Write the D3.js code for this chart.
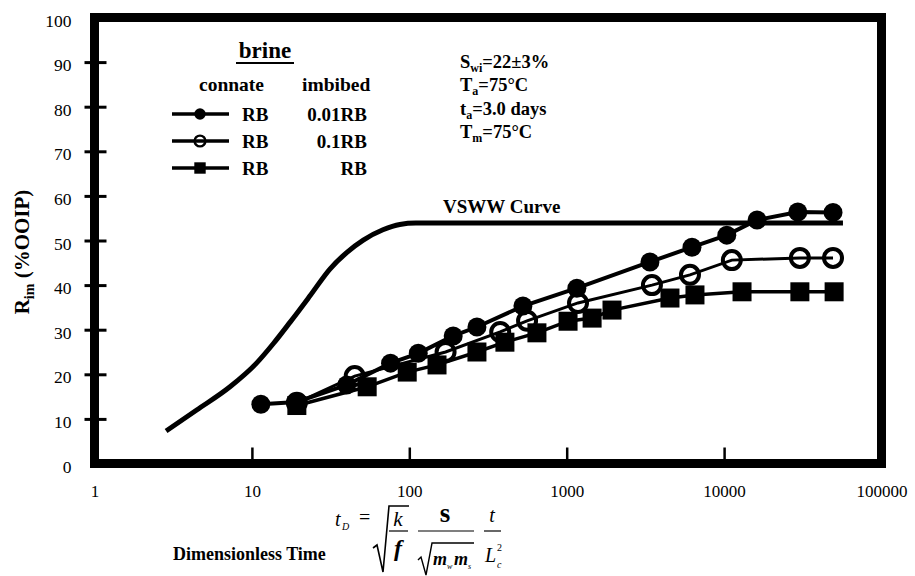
<!DOCTYPE html>
<html>
<head>
<meta charset="utf-8">
<script src="https://cdn.jsdelivr.net/npm/d3@7/dist/d3.min.js"></script>
<style>
  html, body { margin: 0; padding: 0; background: #fff; }
  svg { display: block; }
  text { font-family: "Liberation Serif", "Times New Roman", serif; fill: #000; }
</style>
</head>
<body>
<svg id="chart" width="915" height="576"></svg>
<script>
// Dimensionless time (x) and oil recovery R_im in %OOIP (y)
const vswwTime = [2.85, 4.46, 7.26, 10.7, 13.7, 17.5, 23.4, 31.3, 40, 51, 68, 87, 110, 56900];
const vswwRec  = [7.3, 12.0, 17.2, 22.5, 26.9, 31.7, 37.6, 43.6, 47.3, 50.1, 52.4, 53.6, 53.9, 53.9];

// connate RB / imbibed 0.01RB
const s1Time = [11.4, 19.3, 40, 76, 114, 190, 269, 527, 1160, 3380, 6250, 10400, 16200, 29400, 49200];
const s1Rec  = [13.3, 13.8, 17.6, 22.5, 24.7, 28.6, 30.6, 35.3, 39.3, 45.2, 48.5, 51.2, 54.6, 56.4, 56.3];

// connate RB / imbibed 0.1RB
const s2Time = [19.3, 45, 170, 378, 560, 1180, 3480, 6070, 11200, 30300, 49200];
const s2Rec  = [13.6, 19.6, 25.0, 29.5, 32.0, 36.0, 40.0, 42.3, 45.6, 46.1, 46.1];

// connate RB / imbibed RB
const s3Time = [19.3, 54, 97, 150, 269, 405, 647, 1020, 1450, 1940, 4530, 6530, 13000, 30300, 50000];
const s3Rec  = [13.0, 17.2, 20.5, 22.1, 25.0, 27.2, 29.3, 31.9, 32.6, 34.4, 37.1, 37.8, 38.5, 38.5, 38.5];

const xTickValues = [1, 10, 100, 1000, 10000, 100000];
const yTickValues = [0, 10, 20, 30, 40, 50, 60, 70, 80, 90, 100];

const legendRows = [
  { connate: "RB", imbibed: "0.01RB", marker: "filled" },
  { connate: "RB", imbibed: "0.1RB", marker: "open" },
  { connate: "RB", imbibed: "RB", marker: "square" }
];

const svg = d3.select("#chart");

const x = d3.scaleLog().domain([1, 100000]).range([94.5, 881.5]);
const y = d3.scaleLinear().domain([0, 100]).range([463.5, 17.5]);

const zip = (a, b) => a.map((v, i) => [v, b[i]]);

// axes: ticks and labels
const yAxis = d3.axisLeft(y).tickValues(yTickValues).tickSize(0).tickPadding(0)
  .tickFormat(d3.format("d"));
const gy = svg.append("g").attr("transform", "translate(94.5,0)").call(yAxis);
gy.select(".domain").remove();
gy.selectAll(".tick text")
  .attr("x", -23).attr("dy", "0.32em").attr("dx", 0)
  .attr("y", 3)
  .style("font-size", "17.5px").style("font-family", "'Liberation Serif', serif");
gy.selectAll(".tick").filter(d => d > 0 && d < 100)
  .append("line").attr("x1", -10).attr("x2", 12).attr("stroke", "#000").attr("stroke-width", 3);

const xAxis = d3.axisBottom(x).tickValues(xTickValues).tickSize(0)
  .tickFormat(d3.format("d"));
const gx = svg.append("g").attr("transform", "translate(0,463.5)").call(xAxis);
gx.select(".domain").remove();
gx.selectAll(".tick text").attr("y", 21).attr("dy", "0.71em")
  .style("font-size", "17px").style("font-family", "'Liberation Serif', serif");
gx.selectAll(".tick").filter(d => d > 1 && d < 100000)
  .append("line").attr("y1", -16).attr("y2", 0).attr("stroke", "#000").attr("stroke-width", 2.5);

// frame
svg.append("rect")
  .attr("x", x(1)).attr("y", y(100))
  .attr("width", x(100000) - x(1)).attr("height", y(0) - y(100))
  .attr("fill", "none").attr("stroke", "#000").attr("stroke-width", 9);

// y axis title
const yt = svg.append("text")
  .attr("transform", "translate(29,252) rotate(-90)")
  .attr("text-anchor", "middle")
  .style("font-size", "21px").style("font-weight", "bold");
yt.append("tspan").text("R");
yt.append("tspan").attr("dy", 5).style("font-size", "14px").text("im");
yt.append("tspan").attr("dy", -5).text(" (%OOIP)");

// VSWW curve
const line = d3.line().x(d => x(d[0])).y(d => y(d[1]));
svg.append("path")
  .datum(zip(vswwTime, vswwRec))
  .attr("d", line.curve(d3.curveMonotoneX))
  .attr("fill", "none").attr("stroke", "#000").attr("stroke-width", 5);

svg.append("text").attr("x", 443).attr("y", 213)
  .style("font-size", "19px").style("font-weight", "bold").text("VSWW Curve");

const straight = d3.line().x(d => x(d[0])).y(d => y(d[1]));

function drawMarker(g, kind, cx, cy, scale) {
  if (kind === "filled") {
    g.append("circle").attr("cx", cx).attr("cy", cy).attr("r", 9.5 * scale).attr("fill", "#000");
  } else if (kind === "open") {
    g.append("circle").attr("cx", cx).attr("cy", cy).attr("r", 9 * scale)
      .attr("fill", "none").attr("stroke", "#000").attr("stroke-width", 4 * scale);
  } else {
    const s = 19 * scale;
    g.append("rect").attr("x", cx - s / 2).attr("y", cy - s / 2)
      .attr("width", s).attr("height", s).attr("fill", "#000");
  }
}

const series = [
  { t: s3Time, r: s3Rec, marker: "square", width: 3.5 },
  { t: s2Time, r: s2Rec, marker: "open", width: 3 },
  { t: s1Time, r: s1Rec, marker: "filled", width: 4 }
];

series.forEach(s => {
  const pts = zip(s.t, s.r);
  const g = svg.append("g");
  g.append("path").datum(pts).attr("d", straight)
    .attr("fill", "none").attr("stroke", "#000").attr("stroke-width", s.width);
  pts.forEach(p => drawMarker(g, s.marker, x(p[0]), y(p[1]), 1));
});

// legend
const lg = svg.append("g");
lg.append("text").attr("x", 265).attr("y", 58).attr("text-anchor", "middle")
  .style("font-size", "23px").style("font-weight", "bold").text("brine");
lg.append("line").attr("x1", 236).attr("x2", 294).attr("y1", 63).attr("y2", 63)
  .attr("stroke", "#000").attr("stroke-width", 2);
lg.append("text").attr("x", 199).attr("y", 91)
  .style("font-size", "19.5px").style("font-weight", "bold").text("connate");
lg.append("text").attr("x", 302).attr("y", 91)
  .style("font-size", "19.5px").style("font-weight", "bold").text("imbibed");

legendRows.forEach((row, i) => {
  const ry = 114 + i * 27;
  lg.append("line").attr("x1", 172).attr("x2", 229).attr("y1", ry).attr("y2", ry)
    .attr("stroke", "#000").attr("stroke-width", 3.5);
  drawMarker(lg, row.marker, 200, ry, 0.6);
  lg.append("text").attr("x", 242).attr("y", ry + 6.5)
    .style("font-size", "19px").style("font-weight", "bold").text(row.connate);
  lg.append("text").attr("x", 367).attr("y", ry + 6.5).attr("text-anchor", "end")
    .style("font-size", "19px").style("font-weight", "bold").text(row.imbibed);
});

// experimental conditions
const cond = [
  { main: "S", sub: "wi", rest: "=22\u00b13%" },
  { main: "T", sub: "a", rest: "=75\u00b0C" },
  { main: "t", sub: "a", rest: "=3.0 days" },
  { main: "T", sub: "m", rest: "=75\u00b0C" }
];
cond.forEach((c, i) => {
  const t = svg.append("text").attr("x", 460).attr("y", 68 + i * 23.3)
    .style("font-size", "18.5px").style("font-weight", "bold");
  t.append("tspan").text(c.main);
  t.append("tspan").attr("dy", 4).style("font-size", "12px").text(c.sub);
  t.append("tspan").attr("dy", -4).text(c.rest);
});

// x axis title with the definition of dimensionless time
const ft = svg.append("g");
ft.append("text").attr("x", 173).attr("y", 560)
  .style("font-size", "18px").style("font-weight", "bold").text("Dimensionless Time");
const it = (tx, ty, str, size, opts = {}) => {
  const el = ft.append("text").attr("x", tx).attr("y", ty)
    .style("font-size", size + "px")
    .style("font-style", opts.italic === false ? "normal" : "italic")
    .style("font-weight", opts.bold ? "bold" : "normal")
    .attr("text-anchor", opts.anchor || "start").text(str);
  return el;
};
it(335, 526, "t", 20);
it(342, 530, "D", 10);
it(359, 524, "=", 20, { italic: false });
const rule = (x1, y1, x2, y2, w) => ft.append("line")
  .attr("x1", x1).attr("y1", y1).attr("x2", x2).attr("y2", y2)
  .attr("stroke", "#000").attr("stroke-width", w);
ft.append("path").attr("d", "M373,548 L377,545 L383,572 L389,506 L409,506")
  .attr("fill", "none").attr("stroke", "#000").attr("stroke-width", 1.6);
it(398, 526, "k", 21, { anchor: "middle" });
rule(389, 531, 408, 531, 1.2);
it(398, 556, "f", 24, { anchor: "middle", bold: true });
it(445, 522, "s", 27, { anchor: "middle", bold: true, italic: false });
rule(418, 531, 474, 531, 1.2);
ft.append("path").attr("d", "M418,560 L421,557 L426,575 L432,543 L474,543")
  .attr("fill", "none").attr("stroke", "#000").attr("stroke-width", 1.4);
it(433, 565, "m", 18, { bold: true });
it(447, 569, "w", 8);
it(454, 565, "m", 18, { bold: true });
it(468, 569, "s", 8);
it(492, 522, "t", 20, { anchor: "middle" });
rule(484, 531, 501, 531, 1.2);
it(485, 562, "L", 20);
it(497, 551, "2", 10, { italic: false });
it(497, 568, "c", 10);
</script>
</body>
</html>
